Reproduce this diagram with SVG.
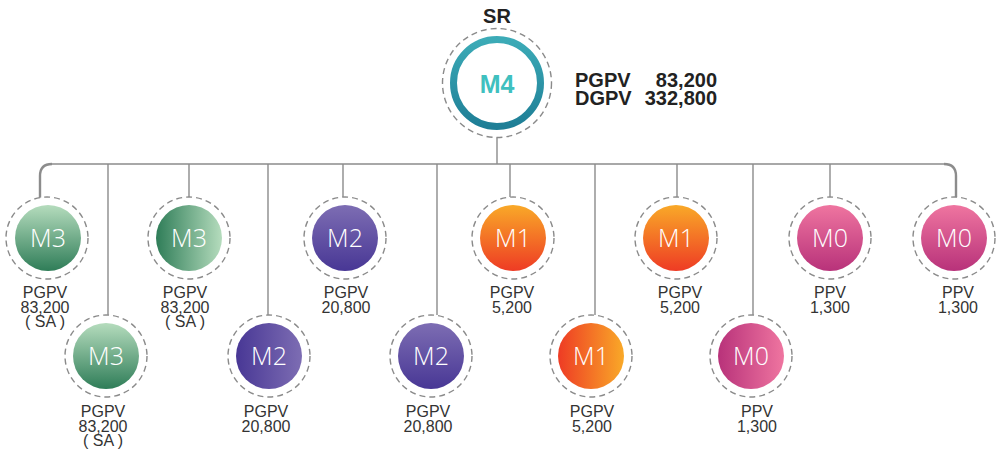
<svg xmlns="http://www.w3.org/2000/svg" width="1000" height="456" viewBox="0 0 1000 456">
<defs>
<linearGradient id="gV3" x1="0" y1="0" x2="0" y2="1"><stop offset="0" stop-color="#b5dcbd"/><stop offset="1" stop-color="#2f7d58"/></linearGradient>
<linearGradient id="gH3" x1="0" y1="0" x2="1" y2="0"><stop offset="0" stop-color="#2f7d58"/><stop offset="1" stop-color="#b5dcbd"/></linearGradient>
<linearGradient id="gV2" x1="0" y1="0" x2="0" y2="1"><stop offset="0" stop-color="#7d6db3"/><stop offset="1" stop-color="#483795"/></linearGradient>
<linearGradient id="gH2" x1="0" y1="0" x2="1" y2="0"><stop offset="0" stop-color="#483795"/><stop offset="1" stop-color="#7d6db3"/></linearGradient>
<linearGradient id="gV1" x1="0" y1="0" x2="0" y2="1"><stop offset="0" stop-color="#f9a928"/><stop offset="1" stop-color="#ee3b24"/></linearGradient>
<linearGradient id="gH1" x1="0" y1="0" x2="1" y2="0"><stop offset="0" stop-color="#ee3b24"/><stop offset="1" stop-color="#f9a928"/></linearGradient>
<linearGradient id="gV0" x1="0" y1="0" x2="0" y2="1"><stop offset="0" stop-color="#ef75a0"/><stop offset="1" stop-color="#b8327a"/></linearGradient>
<linearGradient id="gH0" x1="0" y1="0" x2="1" y2="0"><stop offset="0" stop-color="#b8327a"/><stop offset="1" stop-color="#ef75a0"/></linearGradient>
<linearGradient id="gTeal" x1="0" y1="0" x2="0" y2="1"><stop offset="0" stop-color="#3cabb7"/><stop offset="1" stop-color="#1e7e96"/></linearGradient>
</defs>
<style>
.dash{fill:#fff;stroke:#8a8a8a;stroke-width:1.4;stroke-dasharray:6 4}
.ln{fill:none;stroke:#8c8c8c;stroke-width:1.4}
.lnb{fill:none;stroke:#8c8c8c;stroke-width:2.4}
.lbl{font-family:"Open Sans","Liberation Sans",sans-serif;font-weight:300;font-size:25px;fill:#fff;text-anchor:middle}
.sub{font-family:"Liberation Sans Narrow","Liberation Sans",sans-serif;font-size:16px;fill:#333;text-anchor:middle}
.bold{font-family:"Liberation Sans",Arial,sans-serif;font-weight:bold;font-size:20px;fill:#222}
</style>
<g id="connectors">
<path class="ln" d="M497 137V164M52 164H944"/>
<path class="lnb" d="M40 198V176Q40 164 52 164M944 164Q956 164 956 176V198"/>
<path class="ln" d="M108 164V315M189 164V197M268 164V315M343 164V197M437 164V315M510 164V197M595 164V315M677 164V197M753 164V315M830 164V197"/>
</g>
<g id="sr">
<text class="bold" x="497" y="23" text-anchor="middle">SR</text>
<circle class="dash" cx="497" cy="83" r="54.5"/>
<circle cx="497" cy="83" r="43.5" fill="#fff" stroke="url(#gTeal)" stroke-width="7"/>
<text x="497" y="93" text-anchor="middle" font-family="Liberation Sans,Arial,sans-serif" font-weight="bold" font-size="25" fill="#3fc0bf">M4</text>
<text class="bold" x="575" y="87">PGPV</text>
<text class="bold" x="717" y="87" text-anchor="end">83,200</text>
<text class="bold" x="575" y="105">DGPV</text>
<text class="bold" x="717" y="105" text-anchor="end">332,800</text>
</g>
<g id="n1"><circle class="dash" cx="47" cy="238" r="41"/><circle cx="48" cy="238" r="33" fill="url(#gV3)"/><text class="lbl" x="48" y="247">M3</text>
<text class="sub" x="45" y="298">PGPV</text><text class="sub" x="45" y="313">83,200</text><text class="sub" x="45" y="327">( SA )</text></g>
<g id="n2"><circle class="dash" cx="189" cy="238" r="41"/><circle cx="189" cy="238" r="33" fill="url(#gH3)"/><text class="lbl" x="189" y="247">M3</text>
<text class="sub" x="185" y="298">PGPV</text><text class="sub" x="185" y="313">83,200</text><text class="sub" x="185" y="327">( SA )</text></g>
<g id="n3"><circle class="dash" cx="345" cy="238" r="41"/><circle cx="345" cy="238" r="33" fill="url(#gV2)"/><text class="lbl" x="345" y="247">M2</text>
<text class="sub" x="346" y="298">PGPV</text><text class="sub" x="346" y="313">20,800</text></g>
<g id="n4"><circle class="dash" cx="513" cy="238" r="41"/><circle cx="513" cy="238" r="33" fill="url(#gV1)"/><text class="lbl" x="513" y="247">M1</text>
<text class="sub" x="512" y="298">PGPV</text><text class="sub" x="512" y="313">5,200</text></g>
<g id="n5"><circle class="dash" cx="676" cy="238" r="41"/><circle cx="676" cy="238" r="33" fill="url(#gV1)"/><text class="lbl" x="676" y="247">M1</text>
<text class="sub" x="680" y="298">PGPV</text><text class="sub" x="680" y="313">5,200</text></g>
<g id="n6"><circle class="dash" cx="830" cy="238" r="41"/><circle cx="830" cy="238" r="33" fill="url(#gV0)"/><text class="lbl" x="830" y="247">M0</text>
<text class="sub" x="830" y="298">PPV</text><text class="sub" x="830" y="313">1,300</text></g>
<g id="n7"><circle class="dash" cx="954" cy="238" r="41"/><circle cx="954" cy="238" r="33" fill="url(#gV0)"/><text class="lbl" x="954" y="247">M0</text>
<text class="sub" x="958" y="298">PPV</text><text class="sub" x="958" y="313">1,300</text></g>
<g id="n8"><circle class="dash" cx="106" cy="356" r="41"/><circle cx="106" cy="356" r="33" fill="url(#gV3)"/><text class="lbl" x="106" y="365">M3</text>
<text class="sub" x="103" y="417">PGPV</text><text class="sub" x="103" y="432">83,200</text><text class="sub" x="103" y="446">( SA )</text></g>
<g id="n9"><circle class="dash" cx="269" cy="356" r="41"/><circle cx="269" cy="356" r="33" fill="url(#gH2)"/><text class="lbl" x="269" y="365">M2</text>
<text class="sub" x="266" y="417">PGPV</text><text class="sub" x="266" y="432">20,800</text></g>
<g id="n10"><circle class="dash" cx="431" cy="356" r="41"/><circle cx="431" cy="356" r="33" fill="url(#gV2)"/><text class="lbl" x="431" y="365">M2</text>
<text class="sub" x="428" y="417">PGPV</text><text class="sub" x="428" y="432">20,800</text></g>
<g id="n11"><circle class="dash" cx="591" cy="356" r="41"/><circle cx="591" cy="356" r="33" fill="url(#gH1)"/><text class="lbl" x="591" y="365">M1</text>
<text class="sub" x="592" y="417">PGPV</text><text class="sub" x="592" y="432">5,200</text></g>
<g id="n12"><circle class="dash" cx="751" cy="356" r="41"/><circle cx="751" cy="356" r="33" fill="url(#gH0)"/><text class="lbl" x="751" y="365">M0</text>
<text class="sub" x="757" y="417">PPV</text><text class="sub" x="757" y="432">1,300</text></g>
</svg>
